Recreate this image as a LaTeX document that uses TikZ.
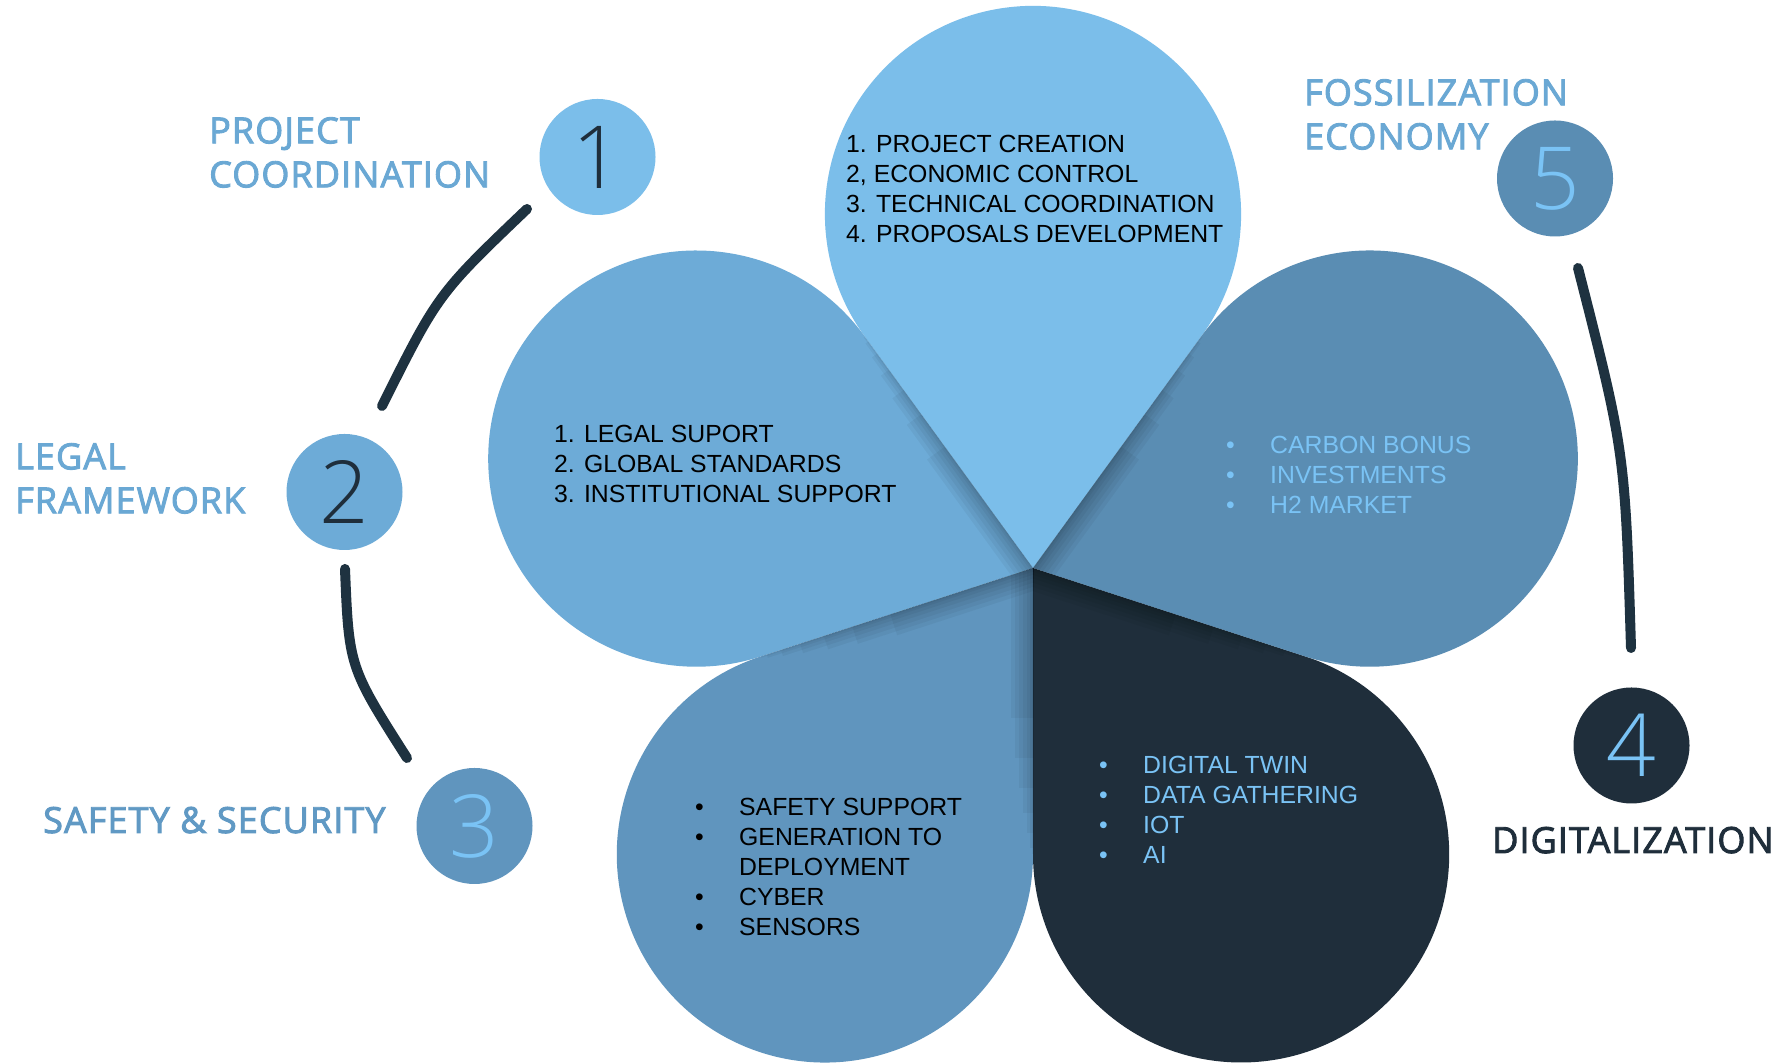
\documentclass[tikz,border=0pt]{standalone}
\usepackage{fontspec}
\setmainfont{Liberation Sans}
\newfontfamily\lblfont[FakeBold=2.5,LetterSpace=3]{Open Sans}
\newfontfamily\digfont{Open Sans Light}
\definecolor{pone}{RGB}{123,190,234}
\definecolor{ptwo}{RGB}{109,171,215}
\definecolor{pthree}{RGB}{96,149,190}
\definecolor{pfour}{RGB}{31,46,59}
\definecolor{pfive}{RGB}{90,141,179}
\definecolor{lighttxt}{RGB}{122,195,245}
\definecolor{arccol}{RGB}{30,50,64}
\definecolor{lblblue}{RGB}{106,168,212}
\definecolor{lblblueb}{RGB}{96,153,196}
\newcommand\petalpath[1]{(T) -- ++(#1-36:286.4) arc[start angle=#1-126, end angle=#1+126, radius=208.1] -- cycle}
\newcommand\bl{\makebox[44pt][l]{•}}
\newcommand\nb{\hspace*{44pt}}
\newcommand\edgeshadow[2]{%
  \begin{scope}
    \clip \petalpath{#1};
    \foreach \w/\l in {44/150,36/190,28/220,20/245,13/265,7/280,3/286}{
      \draw[black, opacity=0.045, line width=\w pt] (T) -- ++(#2:\l);
    }
  \end{scope}}
\begin{document}
\begin{tikzpicture}[x=1pt,y=1pt,
  petaltext/.style={anchor=north west, inner sep=0pt, align=left, font=\fontsize{24.8}{30}\selectfont},
  lbl/.style={inner sep=0pt, align=left, text=lblblue, font=\lblfont\fontsize{36}{44}\selectfont},
  numc/.style={circle, inner sep=0pt, minimum size=116pt, font=\digfont\fontsize{87}{87}\selectfont},
  sepline/.style={line width=10pt, line cap=round, draw=arccol},
]
\fill[white] (0,0) rectangle (1783,1064);
\useasboundingbox (0,0) rectangle (1783,1064);
\coordinate (T) at (1033,496);

% petals
\fill[pone]   \petalpath{90};
\fill[ptwo]   \petalpath{162};
\fill[pthree] \petalpath{234};
\fill[pfour]  \petalpath{306};
\fill[pfive]  \petalpath{18};

% shadows along petal edges
\edgeshadow{162}{126}
\edgeshadow{18}{54}
\edgeshadow{234}{198}
\edgeshadow{306}{342}
\edgeshadow{234}{270}

% petal texts
\node[petaltext] (t1) at (846,929) {1. PROJECT CREATION\\2, ECONOMIC CONTROL\\3. TECHNICAL COORDINATION\\4. PROPOSALS DEVELOPMENT};
\node[petaltext] (t2) at (554,639) {1. LEGAL SUPORT\\2. GLOBAL STANDARDS\\3. INSTITUTIONAL SUPPORT};
\node[petaltext] (t3) at (695,266) {\bl SAFETY SUPPORT\\\bl GENERATION TO\\\nb DEPLOYMENT\\\bl CYBER\\\bl SENSORS};
\node[petaltext, text=lighttxt] (t4) at (1099,308) {\bl DIGITAL TWIN\\\bl DATA GATHERING\\\bl IOT\\\bl AI};
\node[petaltext, text=lighttxt] (t5) at (1226,628) {\bl CARBON BONUS\\\bl INVESTMENTS\\\bl H2 MARKET};

% numbered circles
\node[numc, fill=pone, text=pfour] (c1) at (597.5,907) {1};
\node[numc, fill=ptwo, text=pfour] (c2) at (344.5,572) {2};
\node[numc, fill=pthree, text=lighttxt] (c3) at (474.5,238) {3};
\node[numc, fill=pfour, text=lighttxt] (c4) at (1631.5,318.5) {4};
\node[numc, fill=pfive, text=lighttxt] (c5) at (1555,885.5) {5};

% labels
\node[lbl, anchor=north west] (l1) at (209,947) {PROJECT\\COORDINATION};
\node[lbl, anchor=north west] (l2) at (15,621) {LEGAL\\FRAMEWORK};
\node[lbl, anchor=base west, text=lblblueb] (l3) at (43,231) {SAFETY \& SECURITY};
\node[lbl, anchor=north west] (l5) at (1304,985) {FOSSILIZATION\\ECONOMY};
\node[lbl, anchor=base west, text=pfour] (l4) at (1492,211) {DIGITALIZATION};

% separator arcs
\coordinate (a1s) at (527,855);
\coordinate (a1c) at (438,770);
\coordinate (a1e) at (382,658);
\coordinate (a2s) at (345,495);
\coordinate (a2c) at (349,397);
\coordinate (a2e) at (407,306);
\coordinate (a3s) at (1578,796);
\coordinate (a3c) at (1625,612);
\coordinate (a3e) at (1631,416);
\draw[sepline] (a1s) .. controls (a1c) .. (a1e);
\draw[sepline] (a2s) .. controls (a2c) .. (a2e);
\draw[sepline] (a3s) .. controls (a3c) .. (a3e);
\end{tikzpicture}
\end{document}
